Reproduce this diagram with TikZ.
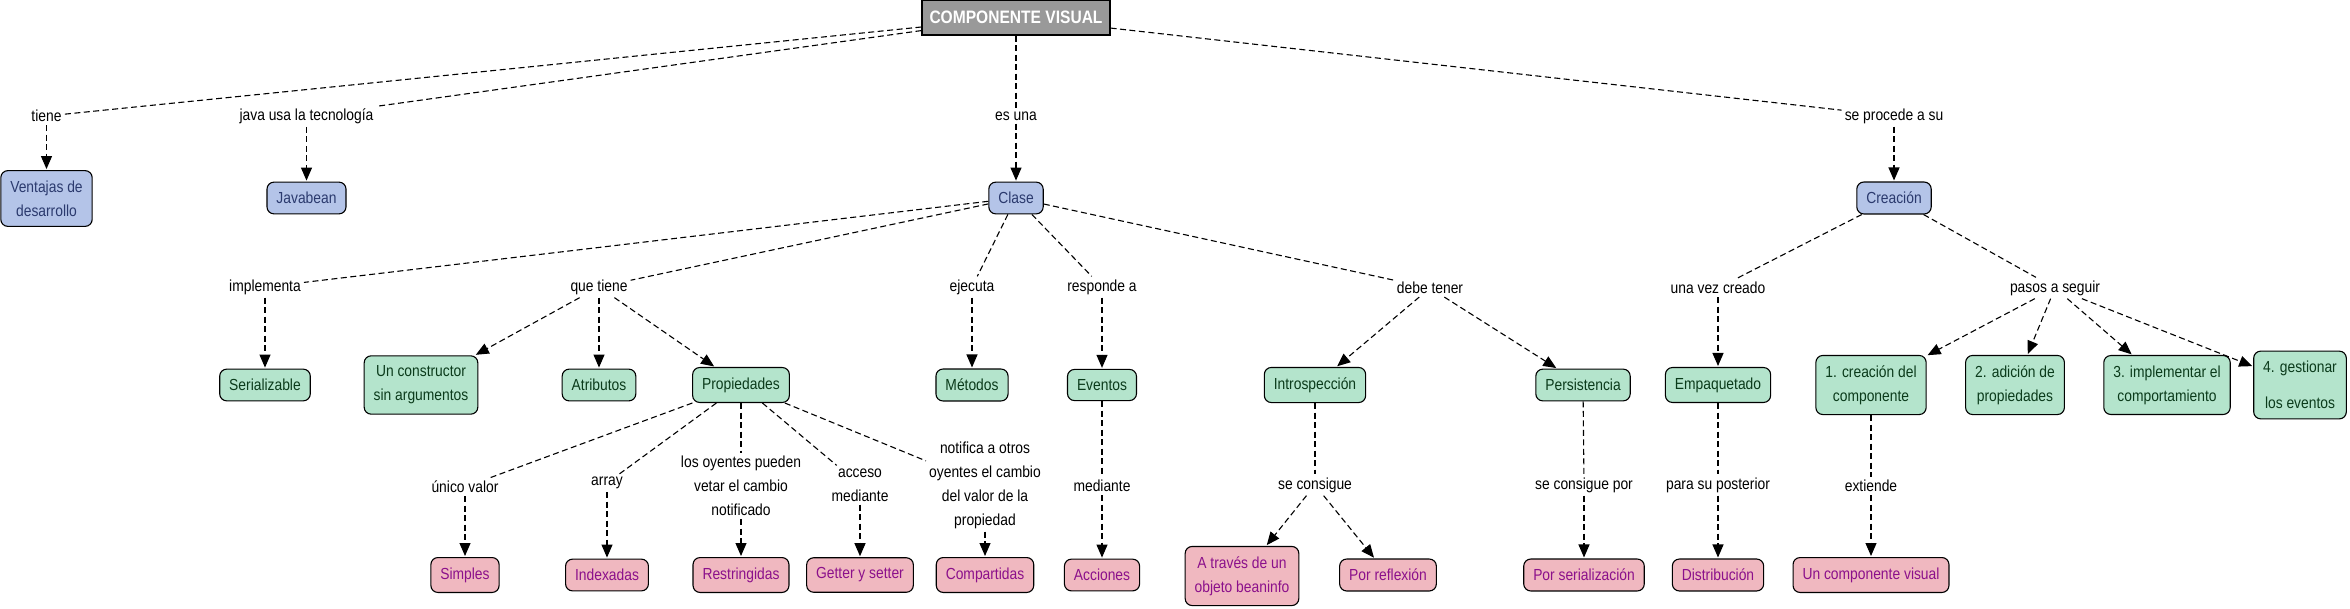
\documentclass[tikz,border=0pt]{standalone}
\usepackage{fontspec}
\setmainfont{Liberation Sans}[FakeStretch=0.865]
\usetikzlibrary{arrows.meta}
\definecolor{bluefill}{HTML}{B4C4E8}
\definecolor{bluetext}{HTML}{2B3A6E}
\definecolor{greenfill}{HTML}{B4E4CC}
\definecolor{greentext}{HTML}{0B3B1B}
\definecolor{pinkfill}{HTML}{F0B8C0}
\definecolor{pinktext}{HTML}{8B108B}
\definecolor{rootfill}{HTML}{999999}
\begin{document}
\begin{tikzpicture}[x=1pt,y=-1pt,
 base/.style={font=\fontsize{16}{24}\selectfont, align=center},
 concept/.style={base, draw=black, line width=1.1pt, rounded corners=7pt, inner xsep=9.5pt, inner ysep=10pt},
 bluebox/.style={concept, fill=bluefill, text=bluetext},
 greenbox/.style={concept, fill=greenfill, text=greentext},
 pinkbox/.style={concept, fill=pinkfill, text=pinktext},
 rootbox/.style={draw=black, line width=1.1pt, fill=rootfill, text=white, font=\fontsize{18}{22}\selectfont\bfseries, minimum width=188pt, minimum height=35pt, inner sep=2pt},
 lbl/.style={base, inner sep=3pt},
 link/.style={draw, dash pattern=on 6pt off 3.5pt, line width=1.1pt},
 arr/.style={link, -{Triangle[length=13pt,width=11pt]}, shorten >=1pt},
]
\useasboundingbox (0,0) rectangle (2350,608);

% root
\node[rootbox] (root) at (1016,17.5) {COMPONENTE VISUAL};

% level 1 labels
\node[lbl] (ltiene) at (46.5,116) {tiene};
\node[lbl] (ljava) at (306.5,116) {java usa la tecnología};
\node[lbl] (lesuna) at (1016,116) {es una};
\node[lbl] (lprocede) at (1894,116) {se procede a su};

% level 1 concepts
\node[bluebox] (ventajas) at (46.5,198.5) {Ventajas de\\desarrollo};
\node[bluebox] (javabean) at (306.5,198) {Javabean};
\node[bluebox] (clase) at (1016,198) {Clase};
\node[bluebox] (creacion) at (1894,198) {Creación};

% level 2 labels
\node[lbl] (limpl) at (265,287) {implementa};
\node[lbl] (lquetiene) at (599,287) {que tiene};
\node[lbl] (lejecuta) at (972,287) {ejecuta};
\node[lbl] (lresponde) at (1102,287) {responde a};
\node[lbl] (ldebe) at (1430,288) {debe tener};
\node[lbl] (lunavez) at (1718,288) {una vez creado};
\node[lbl] (lpasos) at (2055,288) {pasos a seguir};

% level 2 concepts
\node[greenbox] (serial) at (265,385) {Serializable};
\node[greenbox] (constructor) at (421,385) {Un constructor\\sin argumentos};
\node[greenbox] (atributos) at (599,385) {Atributos};
\node[greenbox] (propiedades) at (741,385) {Propiedades};
\node[greenbox] (metodos) at (972,385) {Métodos};
\node[greenbox] (eventos) at (1102,385) {Eventos};
\node[greenbox] (intro) at (1315,385) {Introspección};
\node[greenbox] (persist) at (1583,385) {Persistencia};
\node[greenbox] (empaq) at (1718,385) {Empaquetado};
\node[greenbox] (paso1) at (1871,385) {1. creación del\\componente};
\node[greenbox] (paso2) at (2015,385) {2. adición de\\propiedades};
\node[greenbox] (paso3) at (2167,385) {3. implementar el\\comportamiento};
\node[greenbox] (paso4) at (2300,385) {4. gestionar\\[12pt]los eventos};

% level 3 labels
\node[lbl] (lunico) at (465,487) {único valor};
\node[lbl] (larray) at (607,483) {array};
\node[lbl] (loyentes) at (741,486) {los oyentes pueden\\vetar el cambio\\notificado};
\node[lbl] (lacceso) at (860,485) {acceso\\mediante};
\node[lbl] (lnotifica) at (985,485) {notifica a otros\\oyentes el cambio\\del valor de la\\propiedad};
\node[lbl] (lmediante) at (1102,486) {mediante};
\node[lbl] (lconsigue) at (1315,485) {se consigue};
\node[lbl] (lconsiguepor) at (1584,485) {se consigue por};
\node[lbl] (lpara) at (1718,485) {para su posterior};
\node[lbl] (lextiende) at (1871,486) {extiende};

% level 3 concepts
\node[pinkbox] (simples) at (465,575) {Simples};
\node[pinkbox] (indexadas) at (607,575) {Indexadas};
\node[pinkbox] (restr) at (741,575) {Restringidas};
\node[pinkbox] (getter) at (860,575) {Getter y setter};
\node[pinkbox] (compart) at (985,575) {Compartidas};
\node[pinkbox] (acciones) at (1102,575) {Acciones};
\node[pinkbox] (beaninfo) at (1242,576) {A través de un\\objeto beaninfo};
\node[pinkbox] (reflexion) at (1388,575) {Por reflexión};
\node[pinkbox] (serializ) at (1584,575) {Por serialización};
\node[pinkbox] (distrib) at (1718,575) {Distribución};
\node[pinkbox] (ucv) at (1871,575) {Un componente visual};

% connectors
\draw[link] (root) -- (ltiene);
\draw[arr] (ltiene) -- (ventajas);
\draw[link] (root) -- (ljava);
\draw[arr] (ljava) -- (javabean);
\draw[link] (root) -- (lesuna);
\draw[arr] (lesuna) -- (clase);
\draw[link] (root) -- (lprocede);
\draw[arr] (lprocede) -- (creacion);

\draw[link] (clase) -- (limpl);
\draw[arr] (limpl) -- (serial);
\draw[link] (clase) -- (lquetiene);
\draw[arr] (lquetiene) -- (constructor);
\draw[arr] (lquetiene) -- (atributos);
\draw[arr] (lquetiene) -- (propiedades);
\draw[link] (clase) -- (lejecuta);
\draw[arr] (lejecuta) -- (metodos);
\draw[link] (clase) -- (lresponde);
\draw[arr] (lresponde) -- (eventos);
\draw[link] (clase) -- (ldebe);
\draw[arr] (ldebe) -- (intro);
\draw[arr] (ldebe) -- (persist);

\draw[link] (creacion) -- (lunavez);
\draw[arr] (lunavez) -- (empaq);
\draw[link] (creacion) -- (lpasos);
\draw[arr] (lpasos) -- (paso1);
\draw[arr] (lpasos) -- (paso2);
\draw[arr] (lpasos) -- (paso3);
\draw[arr] (lpasos) -- (paso4);

\draw[link] (propiedades) -- (lunico);
\draw[arr] (lunico) -- (simples);
\draw[link] (propiedades) -- (larray);
\draw[arr] (larray) -- (indexadas);
\draw[link] (propiedades) -- (loyentes);
\draw[arr] (loyentes) -- (restr);
\draw[link] (propiedades) -- (lacceso);
\draw[arr] (lacceso) -- (getter);
\draw[link] (propiedades) -- (lnotifica);
\draw[arr] (lnotifica) -- (compart);

\draw[link] (eventos) -- (lmediante);
\draw[arr] (lmediante) -- (acciones);
\draw[link] (intro) -- (lconsigue);
\draw[arr] (lconsigue) -- (beaninfo);
\draw[arr] (lconsigue) -- (reflexion);
\draw[link] (persist) -- (lconsiguepor);
\draw[arr] (lconsiguepor) -- (serializ);
\draw[link] (empaq) -- (lpara);
\draw[arr] (lpara) -- (distrib);
\draw[link] (paso1) -- (lextiende);
\draw[arr] (lextiende) -- (ucv);
\end{tikzpicture}
\end{document}
